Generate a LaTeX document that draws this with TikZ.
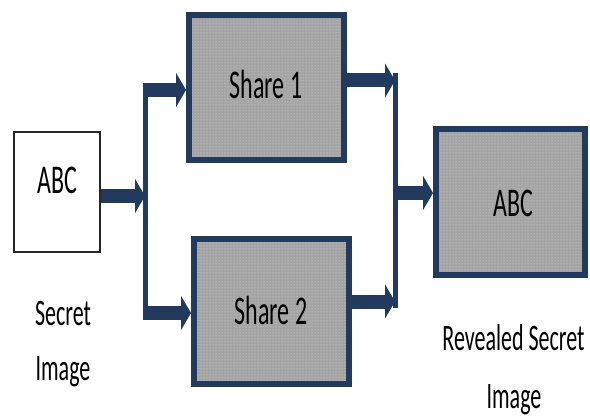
\documentclass[tikz,border=0pt]{standalone}
\usepackage{fontspec}
\setmainfont{Carlito}
\usetikzlibrary{arrows.meta,patterns}
\definecolor{navy}{HTML}{213A5E}
\definecolor{boxgray}{HTML}{A4A4A4}
\definecolor{dotcol}{HTML}{DCDCDC}
\newcommand{\tall}[1]{\scalebox{1}[1.7]{#1}}
\tikzset{
  sharebox/.style={draw=navy, line width=6pt, preaction={fill=boxgray}, pattern=dots, pattern color=dotcol, inner sep=0pt, minimum width=155pt, minimum height=145pt},
  plainbox/.style={draw=black!85, line width=2pt, fill=white, inner sep=0pt, minimum width=86pt, minimum height=120pt},
  boxtext/.style={font=\fontsize{24}{26}\selectfont, inner sep=0pt},
  labtext/.style={font=\fontsize{22}{24}\selectfont, inner sep=0pt, anchor=base},
  arr/.style={navy, line width=14pt, -{Triangle[length=10pt,width=34pt]}},
  bar/.style={navy, line width=5pt},
}
\begin{document}
\begin{tikzpicture}[x=1pt,y=1pt]
\useasboundingbox (0,0) rectangle (590,-420);
% boxes
\node[plainbox] (secret) at (57,-192) {};
\node[boxtext] (secrettxt) at (57,-180) {\tall{ABC}};
\node[sharebox] (share1) at (266.5,-87.5) {};
\node[boxtext] (s1txt) at (266,-84) {\tall{Share 1}};
\node[sharebox] (share2) at (271.5,-311.5) {};
\node[boxtext] (s2txt) at (271,-310) {\tall{Share 2}};
\node[sharebox, minimum width=149pt, minimum height=146pt] (reveal) at (510.5,-202) {};
\node[boxtext] (rtxt) at (513,-203) {\tall{ABC}};
% labels
\node[labtext] (lab1) at (63,-325) {\tall{Secret}};
\node[labtext] (lab2) at (63,-380) {\tall{Image}};
\node[labtext] (lab3) at (513.5,-350) {\tall{Revealed Secret}};
\node[labtext] (lab4) at (514,-408) {\tall{Image}};
% junction coordinates
\coordinate (jl) at (145,-196);
\coordinate (jlt) at (142.5,-90);
\coordinate (jlb) at (142.5,-313);
\coordinate (jr) at (395,-193);
% left split
\draw[bar] (145,-83) coordinate (lt) -- (145,-320) coordinate (lb);
\draw[arr] ([yshift=-4pt]secret.east) -- (jl);
\draw[arr] (jlt) -- (jlt -| share1.west);
\draw[arr] (jlb) -- (jlb -| share2.west);
% right merge
\draw[bar] (395,-73) coordinate (rt) -- (395,-308) coordinate (rb);
\draw[arr] ([yshift=7pt]share1.east) -- ([yshift=7pt]share1.east -| rt);
\draw[arr] ([yshift=10pt]share2.east) -- ([yshift=10pt]share2.east -| rt);
\draw[arr] (392.5,-193) coordinate (ro) -- (ro -| reveal.west);
\end{tikzpicture}
\end{document}
